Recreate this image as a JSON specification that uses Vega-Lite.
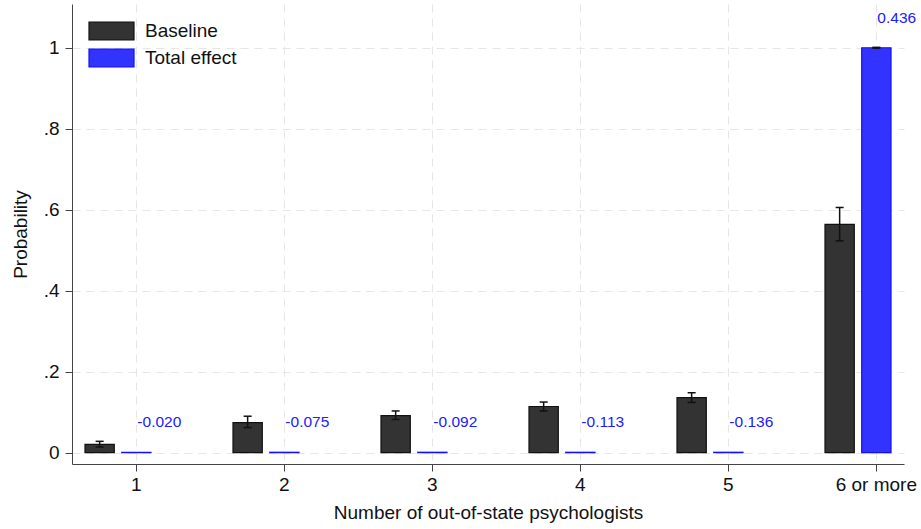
{
  "$schema": "https://vega.github.io/schema/vega-lite/v6.json",
  "autosize": {"type": "none"},
  "padding": {"left": 72, "top": 4, "right": 17, "bottom": 65},
  "width": 832,
  "height": 460,
  "background": "white",
  "config": {
    "view": {"stroke": null},
    "font": "Liberation Sans",
    "legend": {
      "orient": "none",
      "legendX": 29.5,
      "legendY": 17,
      "padding": 0,
      "symbolType": "M-2.5,-1H2.5V1H-2.5Z",
      "symbolSize": 324,
      "symbolStrokeWidth": 1.2,
      "labelOffset": 23.5,
      "rowPadding": 3,
      "labelFontSize": 19,
      "labelColor": "#111111",
      "labelFont": "Liberation Sans"
    }
  },
  "data": {
    "values": [
      {"cat": "1", "series": "Baseline", "p": 0.0205, "lo": 0.014, "hi": 0.028},
      {"cat": "2", "series": "Baseline", "p": 0.074, "lo": 0.062, "hi": 0.090},
      {"cat": "3", "series": "Baseline", "p": 0.0915, "lo": 0.082, "hi": 0.103},
      {"cat": "4", "series": "Baseline", "p": 0.114, "lo": 0.103, "hi": 0.125},
      {"cat": "5", "series": "Baseline", "p": 0.136, "lo": 0.124, "hi": 0.148},
      {"cat": "6 or more", "series": "Baseline", "p": 0.564, "lo": 0.523, "hi": 0.6055},
      {"cat": "1", "series": "Total effect", "p": 0.001, "label": "-0.020"},
      {"cat": "2", "series": "Total effect", "p": 0.001, "label": "-0.075"},
      {"cat": "3", "series": "Total effect", "p": 0.001, "label": "-0.092"},
      {"cat": "4", "series": "Total effect", "p": 0.001, "label": "-0.113"},
      {"cat": "5", "series": "Total effect", "p": 0.001, "label": "-0.136"},
      {"cat": "6 or more", "series": "Total effect", "p": 1.0, "lo": 0.999, "hi": 1.001, "label": "0.436"}
    ]
  },
  "encoding": {
    "x": {
      "field": "cat",
      "type": "nominal",
      "sort": ["1", "2", "3", "4", "5", "6 or more"],
      "scale": {"paddingInner": 0.554, "paddingOuter": 0.0878},
      "axis": {
        "title": "Number of out-of-state psychologists",
        "bandPosition": 0.778,
        "labelOffset": 18.3,
        "labelAngle": 0,
        "labelFontSize": 19,
        "labelColor": "#111111",
        "labelPadding": 4,
        "tickSize": 7,
        "tickColor": "#444444",
        "domainColor": "#444444",
        "grid": true,
        "gridColor": "#e6e6e6",
        "gridDash": [8, 6],
        "titleFontSize": 19,
        "titleFontWeight": "normal",
        "titleColor": "#111111",
        "titleBaseline": "alphabetic",
        "titleY": 54
      }
    },
    "xOffset": {
      "field": "series",
      "type": "nominal",
      "sort": ["Baseline", "Total effect"],
      "scale": {"paddingInner": 0.202, "paddingOuter": 0}
    }
  },
  "layer": [
    {
      "mark": {"type": "bar", "strokeWidth": 1.2},
      "encoding": {
        "y": {
          "field": "p",
          "type": "quantitative",
          "scale": {"domain": [-0.028, 1.108], "nice": false, "zero": false},
          "axis": {
            "title": "Probability",
            "values": [0, 0.2, 0.4, 0.6, 0.8, 1],
            "labelExpr": "datum.value == 0 ? '0' : datum.value == 1 ? '1' : replace(format(datum.value, '.1f'), '0.', '.')",
            "labelFontSize": 19,
            "labelColor": "#111111",
            "labelPadding": 6,
            "tickSize": 7,
            "tickColor": "#444444",
            "domainColor": "#444444",
            "grid": true,
            "gridColor": "#e6e6e6",
            "gridDash": [8, 6],
            "titleFontSize": 19,
            "titleFontWeight": "normal",
            "titleColor": "#111111",
            "titleBaseline": "middle",
            "titleX": -52
          }
        },
        "fill": {
          "field": "series",
          "type": "nominal",
          "scale": {"domain": ["Baseline", "Total effect"], "range": ["#333333", "#3333ff"]},
          "legend": {"title": null}
        },
        "stroke": {
          "field": "series",
          "type": "nominal",
          "scale": {"domain": ["Baseline", "Total effect"], "range": ["#111111", "#1010ff"]},
          "legend": {"title": null}
        }
      }
    },
    {
      "transform": [{"filter": "isValid(datum.lo)"}],
      "mark": {"type": "rule", "color": "#111111", "strokeWidth": 1.5},
      "encoding": {
        "y": {"field": "lo", "type": "quantitative"},
        "y2": {"field": "hi"}
      }
    },
    {
      "transform": [{"filter": "isValid(datum.lo)"}],
      "mark": {"type": "tick", "color": "#111111", "size": 8, "thickness": 1.5, "opacity": 1},
      "encoding": {"y": {"field": "lo", "type": "quantitative"}}
    },
    {
      "transform": [{"filter": "isValid(datum.hi)"}],
      "mark": {"type": "tick", "color": "#111111", "size": 8, "thickness": 1.5, "opacity": 1},
      "encoding": {"y": {"field": "hi", "type": "quantitative"}}
    },
    {
      "transform": [{"filter": "datum.series == 'Total effect'"}],
      "mark": {"type": "text", "align": "left", "baseline": "middle", "dx": 1, "dy": -30, "color": "#2020ff", "fontSize": 15.5, "font": "Liberation Sans"},
      "encoding": {
        "y": {"field": "p", "type": "quantitative"},
        "text": {"field": "label"}
      }
    }
  ]
}
